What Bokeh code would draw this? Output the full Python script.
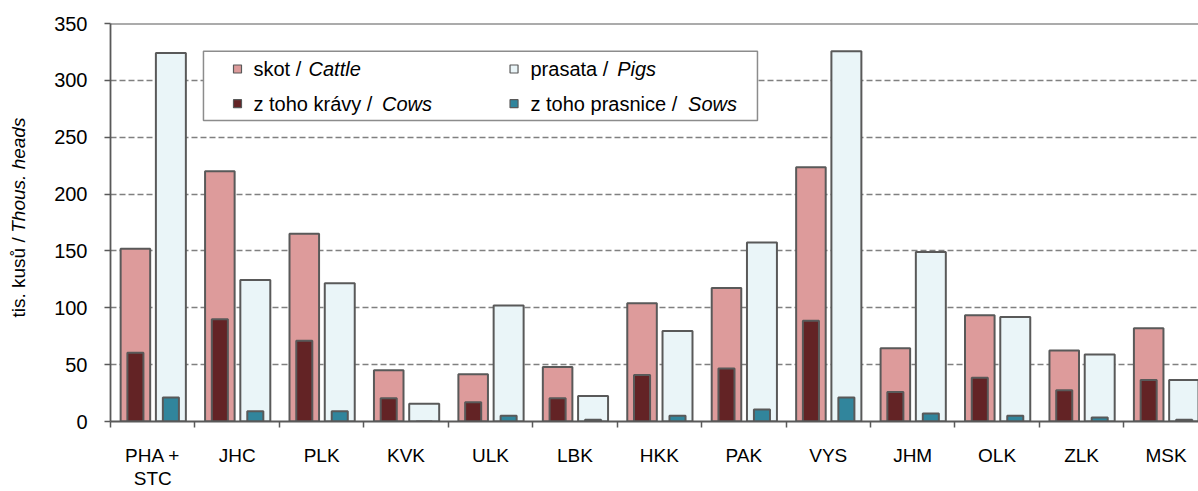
import numpy as np
from bokeh.plotting import figure
from bokeh.layouts import row
from bokeh.models import Range1d, FixedTicker, Label, Span, ColumnDataSource
from bokeh.transform import dodge
from bokeh.embed import file_html
from bokeh.resources import INLINE

regions = ["PHA +\nSTC", "JHC", "PLK", "KVK", "ULK", "LBK", "HKK", "PAK", "VYS", "JHM", "OLK", "ZLK", "MSK"]
cattle = [152, 220, 165, 45, 41.5, 48, 104, 117.5, 223.5, 64.5, 93.5, 62.5, 82]
cows = [60.5, 90, 71, 20.5, 17, 20.5, 41, 46.5, 88.5, 26, 38.5, 27.5, 36.5]
pigs = [324, 124.5, 121.5, 15.5, 102, 22.5, 79.5, 157.5, 325.5, 149, 92, 59, 36.5]
sows = [21, 9, 9, 0, 5, 1.5, 5, 10.5, 21, 7, 5, 3.5, 1.5]
y_ticks = [0, 50, 100, 150, 200, 250, 300, 350]

legend_normal = ["skot / ", "z toho krávy / ", "prasata / ", "z toho prasnice / "]
legend_italic = ["Cattle", "Cows", "Pigs", "Sows"]

C_CATTLE = "#DD9B9B"
C_COWS = "#632325"
C_PIGS = "#EAF5F8"
C_SOWS = "#31859C"
C_LINE = "#595959"
FONT = "Liberation Sans"

idx = np.arange(len(regions))
centers = idx + 0.5
src = ColumnDataSource(dict(x=centers, cattle=cattle, cows=cows, pigs=pigs, sows=sows))

# ---- narrow strip holding the (mixed-style) y-axis title (same y scale as chart) ----
pt = figure(width=40, height=491, output_backend="svg", toolbar_location=None,
            x_range=Range1d(0, 40), y_range=Range1d(0, 350),
            x_axis_type=None, y_axis_type=None, min_border=0)
pt.outline_line_color = None
pt.grid.grid_line_color = None
pt.add_layout(Label(x=18, y=91.4, text="tis. kusů /", angle=np.pi / 2,
                    text_font=FONT, text_font_size="19px", text_align="left",
                    text_baseline="middle", text_color="black"))
pt.add_layout(Label(x=18, y=166.0, text="Thous. heads", angle=np.pi / 2,
                    text_font=FONT, text_font_size="19px", text_font_style="italic",
                    text_align="left", text_baseline="middle", text_color="black"))

# ---- main chart ----
p = figure(width=1158, height=491, output_backend="svg", toolbar_location=None,
           x_range=Range1d(0, 12.885), y_range=Range1d(0, 350),
           min_border_left=70, min_border_right=0, min_border_top=23, min_border_bottom=66)
p.outline_line_color = None

p.xgrid.grid_line_color = None
p.ygrid.grid_line_color = "#808080"
p.ygrid.grid_line_dash = "6 3"
p.ygrid.grid_line_width = 1.3
p.ygrid.ticker = FixedTicker(ticks=y_ticks)

p.vbar(x=dodge("x", -0.205), top="cattle", width=0.35, source=src,
       fill_color=C_CATTLE, line_color=C_LINE, line_width=2)
p.vbar(x=dodge("x", -0.205), top="cows", width=0.19, source=src,
       fill_color=C_COWS, line_color=C_LINE, line_width=2)
p.vbar(x=dodge("x", 0.215), top="pigs", width=0.355, source=src,
       fill_color=C_PIGS, line_color=C_LINE, line_width=2)
p.vbar(x=dodge("x", 0.215), top="sows", width=0.19, source=src,
       fill_color=C_SOWS, line_color=C_LINE, line_width=2)

p.add_layout(Span(location=350, dimension="width", line_color=C_LINE, line_width=1.8))

# legend (box + swatches as glyphs, texts as labels)
p.quad(left=[1.101], right=[7.662], top=[325.6], bottom=[264.7],
       fill_color="white", line_color="#8C8C8C", line_width=1.5)
leg_x_sw = [1.504, 1.504, 4.779, 4.779]
leg_x_txt = [1.693, 1.693, 4.974, 4.974]
leg_x_it = [2.345, 3.215, 6.000, 6.840]
leg_y = [310.0, 279.5, 310.0, 279.5]
leg_col = [C_CATTLE, C_COWS, C_PIGS, C_SOWS]
p.scatter(x=leg_x_sw, y=leg_y, marker="square", size=8, fill_color=leg_col,
          line_color=C_LINE, line_width=1.2)
for a, b, xt, xi, yy in zip(legend_normal, legend_italic, leg_x_txt, leg_x_it, leg_y):
    p.add_layout(Label(x=xt, y=yy, text=a, text_font=FONT, text_font_size="20px",
                       text_baseline="middle", text_align="left", text_color="black"))
    p.add_layout(Label(x=xi, y=yy, text=b, text_font=FONT, text_font_size="20px",
                       text_font_style="italic", text_baseline="middle",
                       text_align="left", text_color="black"))

xa = p.xaxis[0]
xa.ticker = FixedTicker(ticks=list(centers), minor_ticks=[float(i) for i in range(len(regions) + 1)])
xa.major_label_overrides = {float(c): r for c, r in zip(centers, regions)}
xa.major_tick_line_color = None
xa.minor_tick_line_color = C_LINE
xa.minor_tick_line_width = 1.5
xa.minor_tick_out = 6
xa.minor_tick_in = 0
xa.axis_line_color = C_LINE
xa.axis_line_width = 1.8
xa.major_label_text_font = FONT
xa.major_label_text_font_size = "19px"
xa.major_label_text_line_height = 1.1
xa.major_label_text_color = "black"
xa.major_label_standoff = 17

ya = p.yaxis[0]
ya.ticker = FixedTicker(ticks=y_ticks)
ya.major_tick_line_color = C_LINE
ya.major_tick_line_width = 1.5
ya.major_tick_out = 6
ya.major_tick_in = 0
ya.minor_tick_line_color = None
ya.axis_line_color = C_LINE
ya.axis_line_width = 1.8
ya.major_label_text_font = FONT
ya.major_label_text_font_size = "20px"
ya.major_label_text_color = "black"
ya.major_label_standoff = 17

layout = row(pt, p)
open("out.html", "w").write(file_html(layout, INLINE))
